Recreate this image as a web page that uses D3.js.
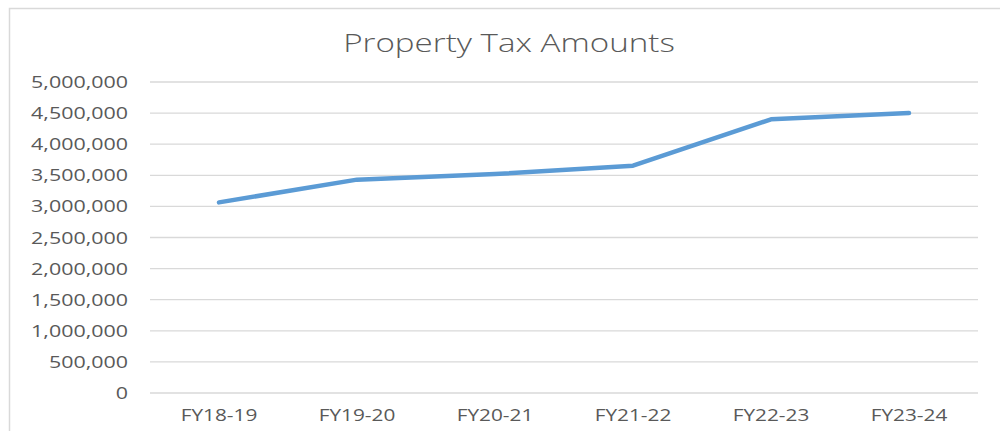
<!DOCTYPE html>
<html>
<head>
<meta charset="utf-8">
<script src="https://cdn.jsdelivr.net/npm/d3@7"></script>
<style>
  body { margin: 0; background: #fff; }
  text { font-family: "Open Sans", sans-serif; fill: #595959; }
</style>
</head>
<body>
<div id="chart-area"></div>
<script>
const years = ['FY18-19', 'FY19-20', 'FY20-21', 'FY21-22', 'FY22-23', 'FY23-24']
const amounts = [3065000, 3430000, 3520000, 3655000, 4400000, 4500000]
const yTicks = [0, 500000, 1000000, 1500000, 2000000, 2500000, 3000000, 3500000, 4000000, 4500000, 5000000]

const width = 1000, height = 431
const plot = {left: 150, right: 978, top: 82, bottom: 393}
const stretch = 1.3 // source image is stretched horizontally

const svg = d3.select('#chart-area').append('svg')
  .attr('width', width)
  .attr('height', height)

// chart frame (right/bottom edges fall outside the crop)
svg.append('rect')
  .attr('x', 9.5).attr('y', 8.5)
  .attr('width', 1010).attr('height', 440)
  .attr('fill', 'none')
  .attr('stroke', '#d9d9d9')
  .attr('stroke-width', 1.5)

const x = d3.scalePoint().domain(years).range([plot.left, plot.right]).padding(0.5)
const y = d3.scaleLinear().domain([0, 5000000]).range([plot.bottom, plot.top])

const fmt = d3.format(',')

// gridlines
svg.append('g').selectAll('line').data(yTicks).enter().append('line')
  .attr('x1', plot.left).attr('x2', plot.right)
  .attr('y1', d => y(d)).attr('y2', d => y(d))
  .attr('stroke', '#d9d9d9')
  .attr('stroke-width', 1.3)

// y labels
svg.append('g').selectAll('text').data(yTicks).enter().append('text')
  .attr('transform', d => `translate(128, ${y(d) + 6}) scale(${stretch}, 1)`)
  .attr('text-anchor', 'end')
  .style('font-size', '16.5px')
  .text(d => fmt(d))

// x labels
svg.append('g').selectAll('text').data(years).enter().append('text')
  .attr('transform', d => `translate(${x(d)}, 421) scale(${stretch}, 1)`)
  .attr('text-anchor', 'middle')
  .style('font-size', '16px')
  .text(d => d)

// title
svg.append('text')
  .attr('transform', `translate(509, 52) scale(${stretch}, 1)`)
  .attr('text-anchor', 'middle')
  .style('font-size', '25.5px')
  .style('font-weight', 300)
  .text('Property Tax Amounts')

const line = d3.line()
  .x((d, i) => x(years[i]))
  .y(d => y(d))

svg.append('path')
  .datum(amounts)
  .attr('d', line)
  .attr('fill', 'none')
  .attr('stroke', '#5b9bd5')
  .attr('stroke-width', 4.5)
  .attr('stroke-linecap', 'round')
  .attr('stroke-linejoin', 'round')
</script>
</body>
</html>
